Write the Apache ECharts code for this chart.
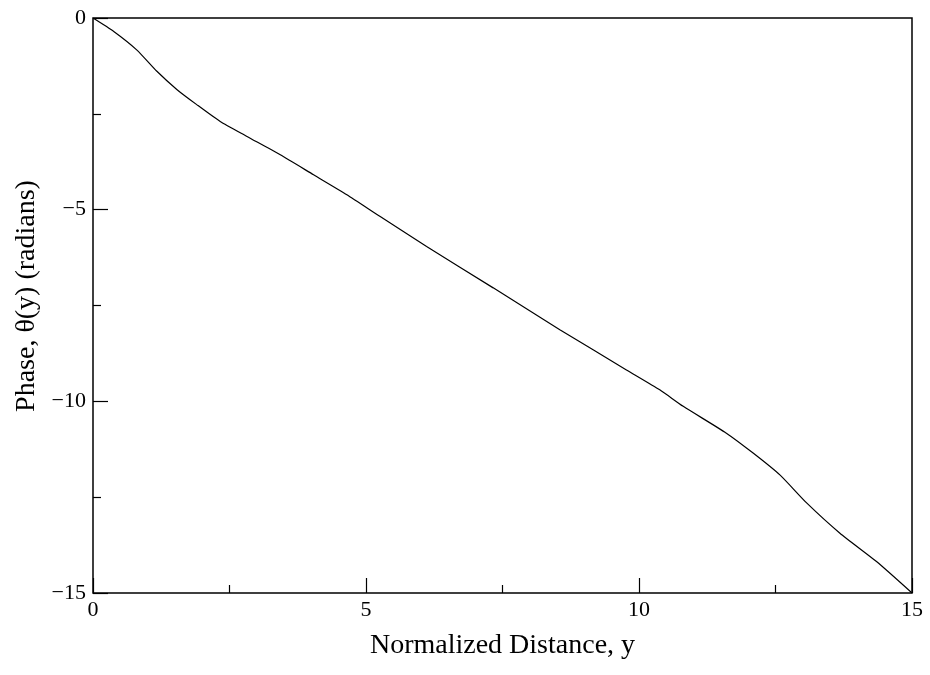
<!DOCTYPE html>
<html>
<head>
<meta charset="utf-8">
<script src="https://cdn.jsdelivr.net/npm/echarts@6/dist/echarts.min.js"></script>
<style>
  html, body { margin: 0; padding: 0; background: #fff; }
  #chart { width: 930px; height: 675px; }
</style>
</head>
<body>
<div id="chart"></div>
<script>
// normalized distance y (x axis)
const distance = [0, 0.38, 0.8, 1.17, 1.54, 1.9, 2.33, 2.82, 3.43, 4.04, 4.65, 5.26,
  6.11, 7.33, 8.55, 9.77, 10.38, 10.81, 11.6, 12.09, 12.58, 13.07, 13.68, 14.35, 15]
// phase theta(y) in radians
const phase = [0, -0.35, -0.83, -1.39, -1.87, -2.26, -2.7, -3.09, -3.57, -4.09, -4.61, -5.18,
  -5.96, -7.04, -8.13, -9.18, -9.7, -10.13, -10.83, -11.35, -11.92, -12.65, -13.44, -14.18, -15]

const font = 'Liberation Serif, Times New Roman, serif'
const minus = v => String(v).replace('-', '\u2212')

const chart = echarts.init(document.getElementById('chart'), null, { renderer: 'canvas' })
chart.setOption({
  animation: false,
  grid: {
    left: 93, right: 18, top: 18, bottom: 82,
    show: true, borderColor: '#000', borderWidth: 1.5
  },
  xAxis: {
    type: 'value', min: 0, max: 15, interval: 5,
    name: 'Normalized Distance, y',
    nameLocation: 'middle', nameGap: 39,
    nameTextStyle: { fontFamily: font, fontSize: 28, color: '#000' },
    axisLine: { show: false, onZero: false },
    axisTick: { inside: true, length: 15, lineStyle: { color: '#000', width: 1.2 } },
    minorTick: { show: true, splitNumber: 2, length: 8, lineStyle: { color: '#000', width: 1.2 } },
    splitLine: { show: false },
    axisLabel: { fontFamily: font, fontSize: 22, color: '#000', margin: 6, formatter: minus }
  },
  yAxis: {
    type: 'value', min: -15, max: 0, interval: 5,
    name: 'Phase, \u03b8(y) (radians)',
    nameLocation: 'middle', nameGap: 52,
    nameTextStyle: { fontFamily: font, fontSize: 28, color: '#000', padding: [0, 0, 0, 19] },
    axisLine: { show: false, onZero: false },
    axisTick: { inside: true, length: 15, lineStyle: { color: '#000', width: 1.2 } },
    minorTick: { show: true, splitNumber: 2, length: 8, lineStyle: { color: '#000', width: 1.2 } },
    splitLine: { show: false },
    axisLabel: { fontFamily: font, fontSize: 22, color: '#000', margin: 7, formatter: minus }
  },
  series: [{
    type: 'line',
    data: distance.map((d, i) => [d, phase[i]]),
    showSymbol: false,
    smooth: 0.2,
    lineStyle: { color: '#000', width: 1.2 }
  }]
})
</script>
</body>
</html>
